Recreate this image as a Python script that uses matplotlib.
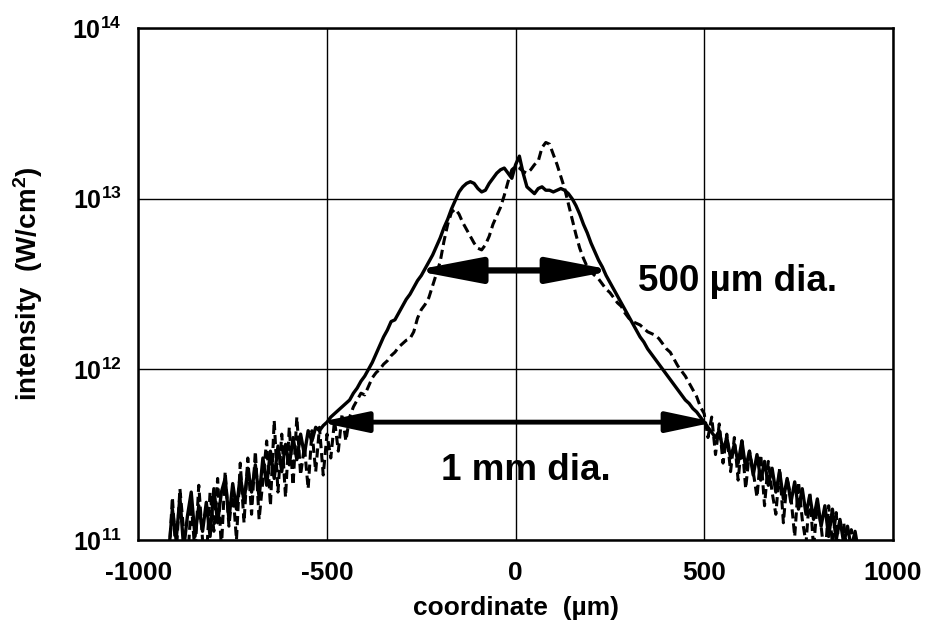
import numpy as np
import matplotlib
matplotlib.use('Agg')
import matplotlib.pyplot as plt
from matplotlib.ticker import FixedLocator, NullLocator

plt.rcParams['font.family'] = ['Liberation Sans', 'DejaVu Sans']
plt.rcParams['font.weight'] = 'bold'
plt.rcParams['axes.labelweight'] = 'bold'
plt.rcParams['axes.unicode_minus'] = False
plt.rcParams['mathtext.fontset'] = 'custom'
plt.rcParams['mathtext.rm'] = 'Liberation Sans:bold'
plt.rcParams['mathtext.bf'] = 'Liberation Sans:bold'
plt.rcParams['mathtext.it'] = 'Liberation Sans:bold'

# sample positions (um), 10 um apart
x_um = np.arange(-920, 930, 10)

# log10 of intensity, one row per 100 um
solid_log = [
    10.92, 11.18, 11.00, 11.25, 10.95, 11.14, 11.28, 11.02, 11.20, 11.05,
    11.22, 11.02, 11.30, 11.10, 11.28, 11.36, 11.12, 11.33, 11.18, 11.38,
    11.22, 11.42, 11.28, 11.44, 11.25, 11.48, 11.32, 11.52, 11.36, 11.55,
    11.40, 11.56, 11.44, 11.60, 11.47, 11.62, 11.50, 11.64, 11.58, 11.66,
    11.64, 11.67, 11.69, 11.72, 11.74, 11.76, 11.78, 11.80, 11.82, 11.86,
    11.89, 11.93, 11.96, 12.00, 12.04, 12.09, 12.14, 12.19, 12.23, 12.28,
    12.29, 12.33, 12.37, 12.41, 12.44, 12.48, 12.52, 12.55, 12.59, 12.63,
    12.67, 12.72, 12.77, 12.83, 12.88, 12.94, 12.99, 13.04, 13.07, 13.09,
    13.10, 13.09, 13.06, 13.04, 13.05, 13.09, 13.12, 13.15, 13.17, 13.18,
    13.15, 13.12, 13.20, 13.25, 13.15, 13.07, 13.05, 13.03, 13.06, 13.07,
    13.05, 13.05, 13.04, 13.05, 13.06, 13.05, 13.03, 13.00, 12.96, 12.91,
    12.85, 12.80, 12.74, 12.69, 12.64, 12.60, 12.55, 12.51, 12.47, 12.43,
    12.39, 12.35, 12.31, 12.27, 12.23, 12.19, 12.16, 12.12, 12.09, 12.06,
    12.03, 12.00, 11.97, 11.94, 11.91, 11.88, 11.85, 11.82, 11.80, 11.77,
    11.75, 11.72, 11.69, 11.66, 11.63, 11.60, 11.64, 11.52, 11.60, 11.48,
    11.56, 11.45, 11.58, 11.42, 11.52, 11.38, 11.50, 11.35, 11.46, 11.32,
    11.42, 11.28, 11.40, 11.24, 11.36, 11.22, 11.34, 11.18, 11.30, 11.15,
    11.26, 11.12, 11.24, 11.08, 11.20, 11.02, 11.18, 11.00, 11.12, 10.98,
    11.08, 10.95, 11.05, 10.92, 10.90,
]

dashed_log = [
    10.85, 11.25, 10.90, 11.30, 11.05, 10.85, 11.22, 10.92, 11.32, 11.00,
    10.88, 11.28, 11.05, 11.36, 10.95, 11.40, 11.08, 11.30, 11.00, 11.45,
    11.10, 11.48, 11.15, 11.52, 11.12, 11.35, 11.58, 11.20, 11.70, 11.28,
    11.62, 11.25, 11.66, 11.32, 11.72, 11.38, 11.55, 11.30, 11.64, 11.40,
    11.66, 11.38, 11.62, 11.48, 11.70, 11.52, 11.74, 11.58, 11.72, 11.78,
    11.82, 11.86, 11.85, 11.90, 11.95, 11.98, 12.00, 12.03, 12.05, 12.08,
    12.10, 12.13, 12.15, 12.17, 12.18, 12.22, 12.30, 12.35, 12.38, 12.42,
    12.49, 12.56, 12.63, 12.75, 12.85, 12.92, 12.94, 12.91, 12.86, 12.82,
    12.78, 12.74, 12.71, 12.70, 12.73, 12.78, 12.85, 12.90, 12.95, 13.02,
    13.10, 13.17, 13.19, 13.18, 13.16, 13.15, 13.17, 13.20, 13.22, 13.30,
    13.33, 13.32, 13.26, 13.20, 13.13, 13.06, 12.97, 12.88, 12.79, 12.71,
    12.65, 12.60, 12.57, 12.55, 12.53, 12.50, 12.47, 12.45, 12.42, 12.39,
    12.37, 12.33, 12.30, 12.28, 12.27, 12.26, 12.24, 12.22, 12.21, 12.20,
    12.18, 12.15, 12.12, 12.10, 12.06, 12.02, 11.99, 11.96, 11.92, 11.88,
    11.84, 11.78, 11.74, 11.60, 11.72, 11.50, 11.68, 11.45, 11.62, 11.40,
    11.60, 11.35, 11.58, 11.30, 11.52, 11.40, 11.25, 11.50, 11.20, 11.46,
    11.28, 11.15, 11.42, 11.10, 11.36, 11.25, 11.02, 11.34, 11.12, 10.98,
    11.28, 10.95, 11.22, 11.08, 10.88, 11.20, 10.98, 11.16, 10.85, 11.10,
    10.90, 11.06, 10.85, 11.00, 10.80,
]

x_ticks = [-1000, -500, 0, 500, 1000]
y_ticks = [1e11, 1e12, 1e13, 1e14]
y_tick_labels = [r'$\mathbf{10^{11}}$', r'$\mathbf{10^{12}}$',
                 r'$\mathbf{10^{13}}$', r'$\mathbf{10^{14}}$']

# diameter markers: x start, x end, level, label, label anchor
spot_500 = (-270, 262, 3.8e12, '500 \u00b5m dia.', (324, 2.88e12))
spot_1mm = (-520, 528, 4.9e11, '1 mm dia.', (-197, 2.25e11))

fig = plt.figure(figsize=(9.29, 6.27), dpi=100)
ax = fig.add_axes([0.149, 0.139, 0.812, 0.816])

ax.semilogy(x_um, 10 ** np.array(solid_log), color='k', lw=2.4,
            solid_joinstyle='round')
ax.semilogy(x_um, 10 ** np.array(dashed_log), color='k', lw=2.2,
            ls=(0, (3, 1.6)))

ax.set_xlim(-1000, 1000)
ax.set_ylim(1e11, 1e14)
ax.xaxis.set_major_locator(FixedLocator(x_ticks))
ax.yaxis.set_major_locator(FixedLocator(y_ticks))
ax.yaxis.set_minor_locator(NullLocator())
ax.set_yticklabels(y_tick_labels)
ax.tick_params(length=0)
ax.tick_params(axis='x', labelsize=19, pad=15)
ax.tick_params(axis='y', labelsize=18, pad=12)
ax.grid(True, color='k', lw=1.0)
for s in ax.spines.values():
    s.set_linewidth(1.8)

ax.set_xlabel('coordinate  (\u00b5m)', fontsize=19, labelpad=8)
ax.set_ylabel('intensity  (W/cm$^{2}$)', fontsize=20, labelpad=20)

# arrow heads: (head_length, head_width, shaft width)
heads = [(2.2, 0.42, 4.5), (1.6, 0.34, 3.5)]
for (x0, x1, lvl, txt, pos), (hl, hw, lw) in zip((spot_500, spot_1mm), heads):
    ax.annotate('', xy=(x1, lvl), xytext=(x0, lvl),
                arrowprops=dict(arrowstyle=f'<|-|>,head_length={hl},head_width={hw}',
                                mutation_scale=18, lw=lw, color='k',
                                shrinkA=0, shrinkB=0))
    ax.text(pos[0], pos[1], txt, fontsize=26.5, va='baseline', ha='left')

fig.savefig('out.png', dpi=100)
